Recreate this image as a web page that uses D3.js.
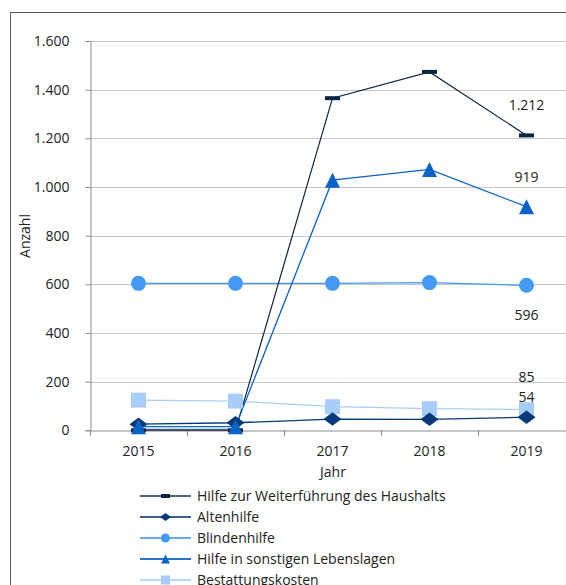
<!DOCTYPE html>
<html><head><meta charset="utf-8">
<script src="https://cdn.jsdelivr.net/npm/d3@7"></script>
<style>body{margin:0;background:#fff}svg{display:block;font-family:"Open Sans",sans-serif}</style>
</head><body>
<svg id="c" width="566" height="585"></svg>
<script>
const years = ["2015","2016","2017","2018","2019"];
const seriesNames = ["Hilfe zur Weiterführung des Haushalts","Altenhilfe","Blindenhilfe","Hilfe in sonstigen Lebenslagen","Bestattungskosten"];
const haushalt = [0, 0, 1365, 1473, 1212];
const altenhilfe = [25, 31, 46, 45, 54];
const blindenhilfe = [604, 604, 604, 607, 596];
const lebenslagen = [15, 15, 1028, 1072, 919];
const bestattung = [124, 120, 97, 89, 85];
const yTicks = [0,200,400,600,800,1000,1200,1400,1600];
const endLabels = ["1.212","54","596","919","85"];

(function(){
const FS = 14;
const styles = [
  {color:"#0b2545", legend:"#4d6584", marker:"dash"},
  {color:"#063a7a", legend:"#3e5f8f", marker:"diamond"},
  {color:"#4499f4", legend:"#6aaaf4", marker:"circle"},
  {color:"#0a64c8", legend:"#2a73cc", marker:"triangle"},
  {color:"#a8cdfb", legend:"#bcd8fb", marker:"square"}
];
const data = [haushalt, altenhilfe, blindenhilfe, lebenslagen, bestattung];
const labelOffsets = [-30, -20, 30, -30, -33];

const svg = d3.select("#c");
const pL = 90, pT = 41, pB = 430.3, pR = 575;
const x = d3.scaleBand().domain(years).range([pL, pR]);
const y = d3.scaleLinear().domain([0,1600]).range([pB, pT]);

svg.append("rect").attr("x",10.5).attr("y",12.5).attr("width",600).attr("height",600)
  .attr("fill","none").attr("stroke","#595959").attr("stroke-width",1);

svg.append("g").selectAll("line").data(yTicks.slice(1)).join("line")
  .attr("x1",pL).attr("x2",pR).attr("y1",d=>Math.round(y(d))+0.5).attr("y2",d=>Math.round(y(d))+0.5)
  .attr("stroke","#c6c6c6").attr("stroke-width",1.2);

const yAxis = svg.append("g").attr("transform",`translate(${pL+0.5},0)`)
  .call(d3.axisLeft(y).tickValues(yTicks).tickSize(5).tickPadding(16)
    .tickFormat(d=>d3.format(",")(d).replace(/,/g,".")));
yAxis.select(".domain").attr("stroke","#8c8c8c");
yAxis.selectAll(".tick line").attr("stroke","#8c8c8c");
yAxis.selectAll("text").attr("font-size",FS).attr("fill","#222").attr("font-family","'Open Sans',sans-serif");

const xAxis = svg.append("g").attr("transform",`translate(0,${Math.round(pB)+0.5})`)
  .call(d3.axisBottom(x).tickSize(0).tickPadding(16));
xAxis.select(".domain").attr("stroke","#8c8c8c").attr("stroke-width",1.2);
xAxis.selectAll("text").attr("font-size",FS).attr("fill","#222").attr("font-family","'Open Sans',sans-serif");
svg.append("g").selectAll("line").data(years).join("line")
  .attr("x1",d=>Math.round(x(d))+0.5).attr("x2",d=>Math.round(x(d))+0.5)
  .attr("y1",Math.round(pB)).attr("y2",Math.round(pB)+6)
  .attr("stroke","#8c8c8c");

svg.append("text").attr("x",333).attr("y",477).attr("text-anchor","middle")
  .attr("font-size",FS).attr("fill","#222").text("Jahr");
svg.append("text").attr("transform","translate(30,236) rotate(-90)").attr("text-anchor","middle")
  .attr("font-size",FS).attr("fill","#222").text("Anzahl");

function drawMarker(g, type, color, cx, cy, s) {
  if (type==="dash") g.append("rect").attr("x",cx-s).attr("y",cy-2).attr("width",s*2).attr("height",4).attr("fill",color);
  else if (type==="diamond") g.append("path").attr("d",`M${cx-s*1.2},${cy}L${cx},${cy-s*0.9}L${cx+s*1.2},${cy}L${cx},${cy+s*0.9}Z`).attr("fill",color);
  else if (type==="circle") g.append("circle").attr("cx",cx).attr("cy",cy).attr("r",s).attr("fill",color);
  else if (type==="triangle") g.append("path").attr("d",`M${cx},${cy-s}L${cx+s},${cy+s}L${cx-s},${cy+s}Z`).attr("fill",color);
  else if (type==="square") g.append("rect").attr("x",cx-s).attr("y",cy-s).attr("width",2*s).attr("height",2*s).attr("fill",color);
}

const cx = d => x(d) + x.bandwidth()/2;
const line = d3.line().x((d,i)=>cx(years[i])).y(d=>y(d));
const order = [4,2,1,0,3];
order.forEach(k=>{
  svg.append("path").datum(data[k]).attr("d",line).attr("fill","none")
    .attr("stroke",styles[k].color).attr("stroke-width", k===0?1.2:1.3);
});
svg.append("line").attr("x1",cx("2015")).attr("x2",cx("2016")).attr("y1",y(0)-0.5).attr("y2",y(0)-0.5)
  .attr("stroke","#4a5a70").attr("stroke-width",2);
order.forEach(k=>{
  const g = svg.append("g");
  data[k].forEach((v,i)=>drawMarker(g, styles[k].marker, styles[k].color, cx(years[i]), y(v), 7.5));
});

data.forEach((arr,k)=>{
  svg.append("text").attr("x",cx("2019")).attr("y",y(arr[4])+labelOffsets[k]+5)
    .attr("text-anchor","middle").attr("font-size",FS).attr("fill","#222").text(endLabels[k]);
});

const lg = svg.append("g");
seriesNames.forEach((n,k)=>{
  const yy = 496 + k*21;
  lg.append("line").attr("x1",140).attr("x2",191).attr("y1",yy).attr("y2",yy)
    .attr("stroke",styles[k].legend).attr("stroke-width",2);
  drawMarker(lg, styles[k].marker, styles[k].color, 165.5, yy, 4.5);
  lg.append("text").attr("x",197).attr("y",yy+5).attr("font-size",FS).attr("fill","#222").text(n);
});
})();
</script>
</body></html>
